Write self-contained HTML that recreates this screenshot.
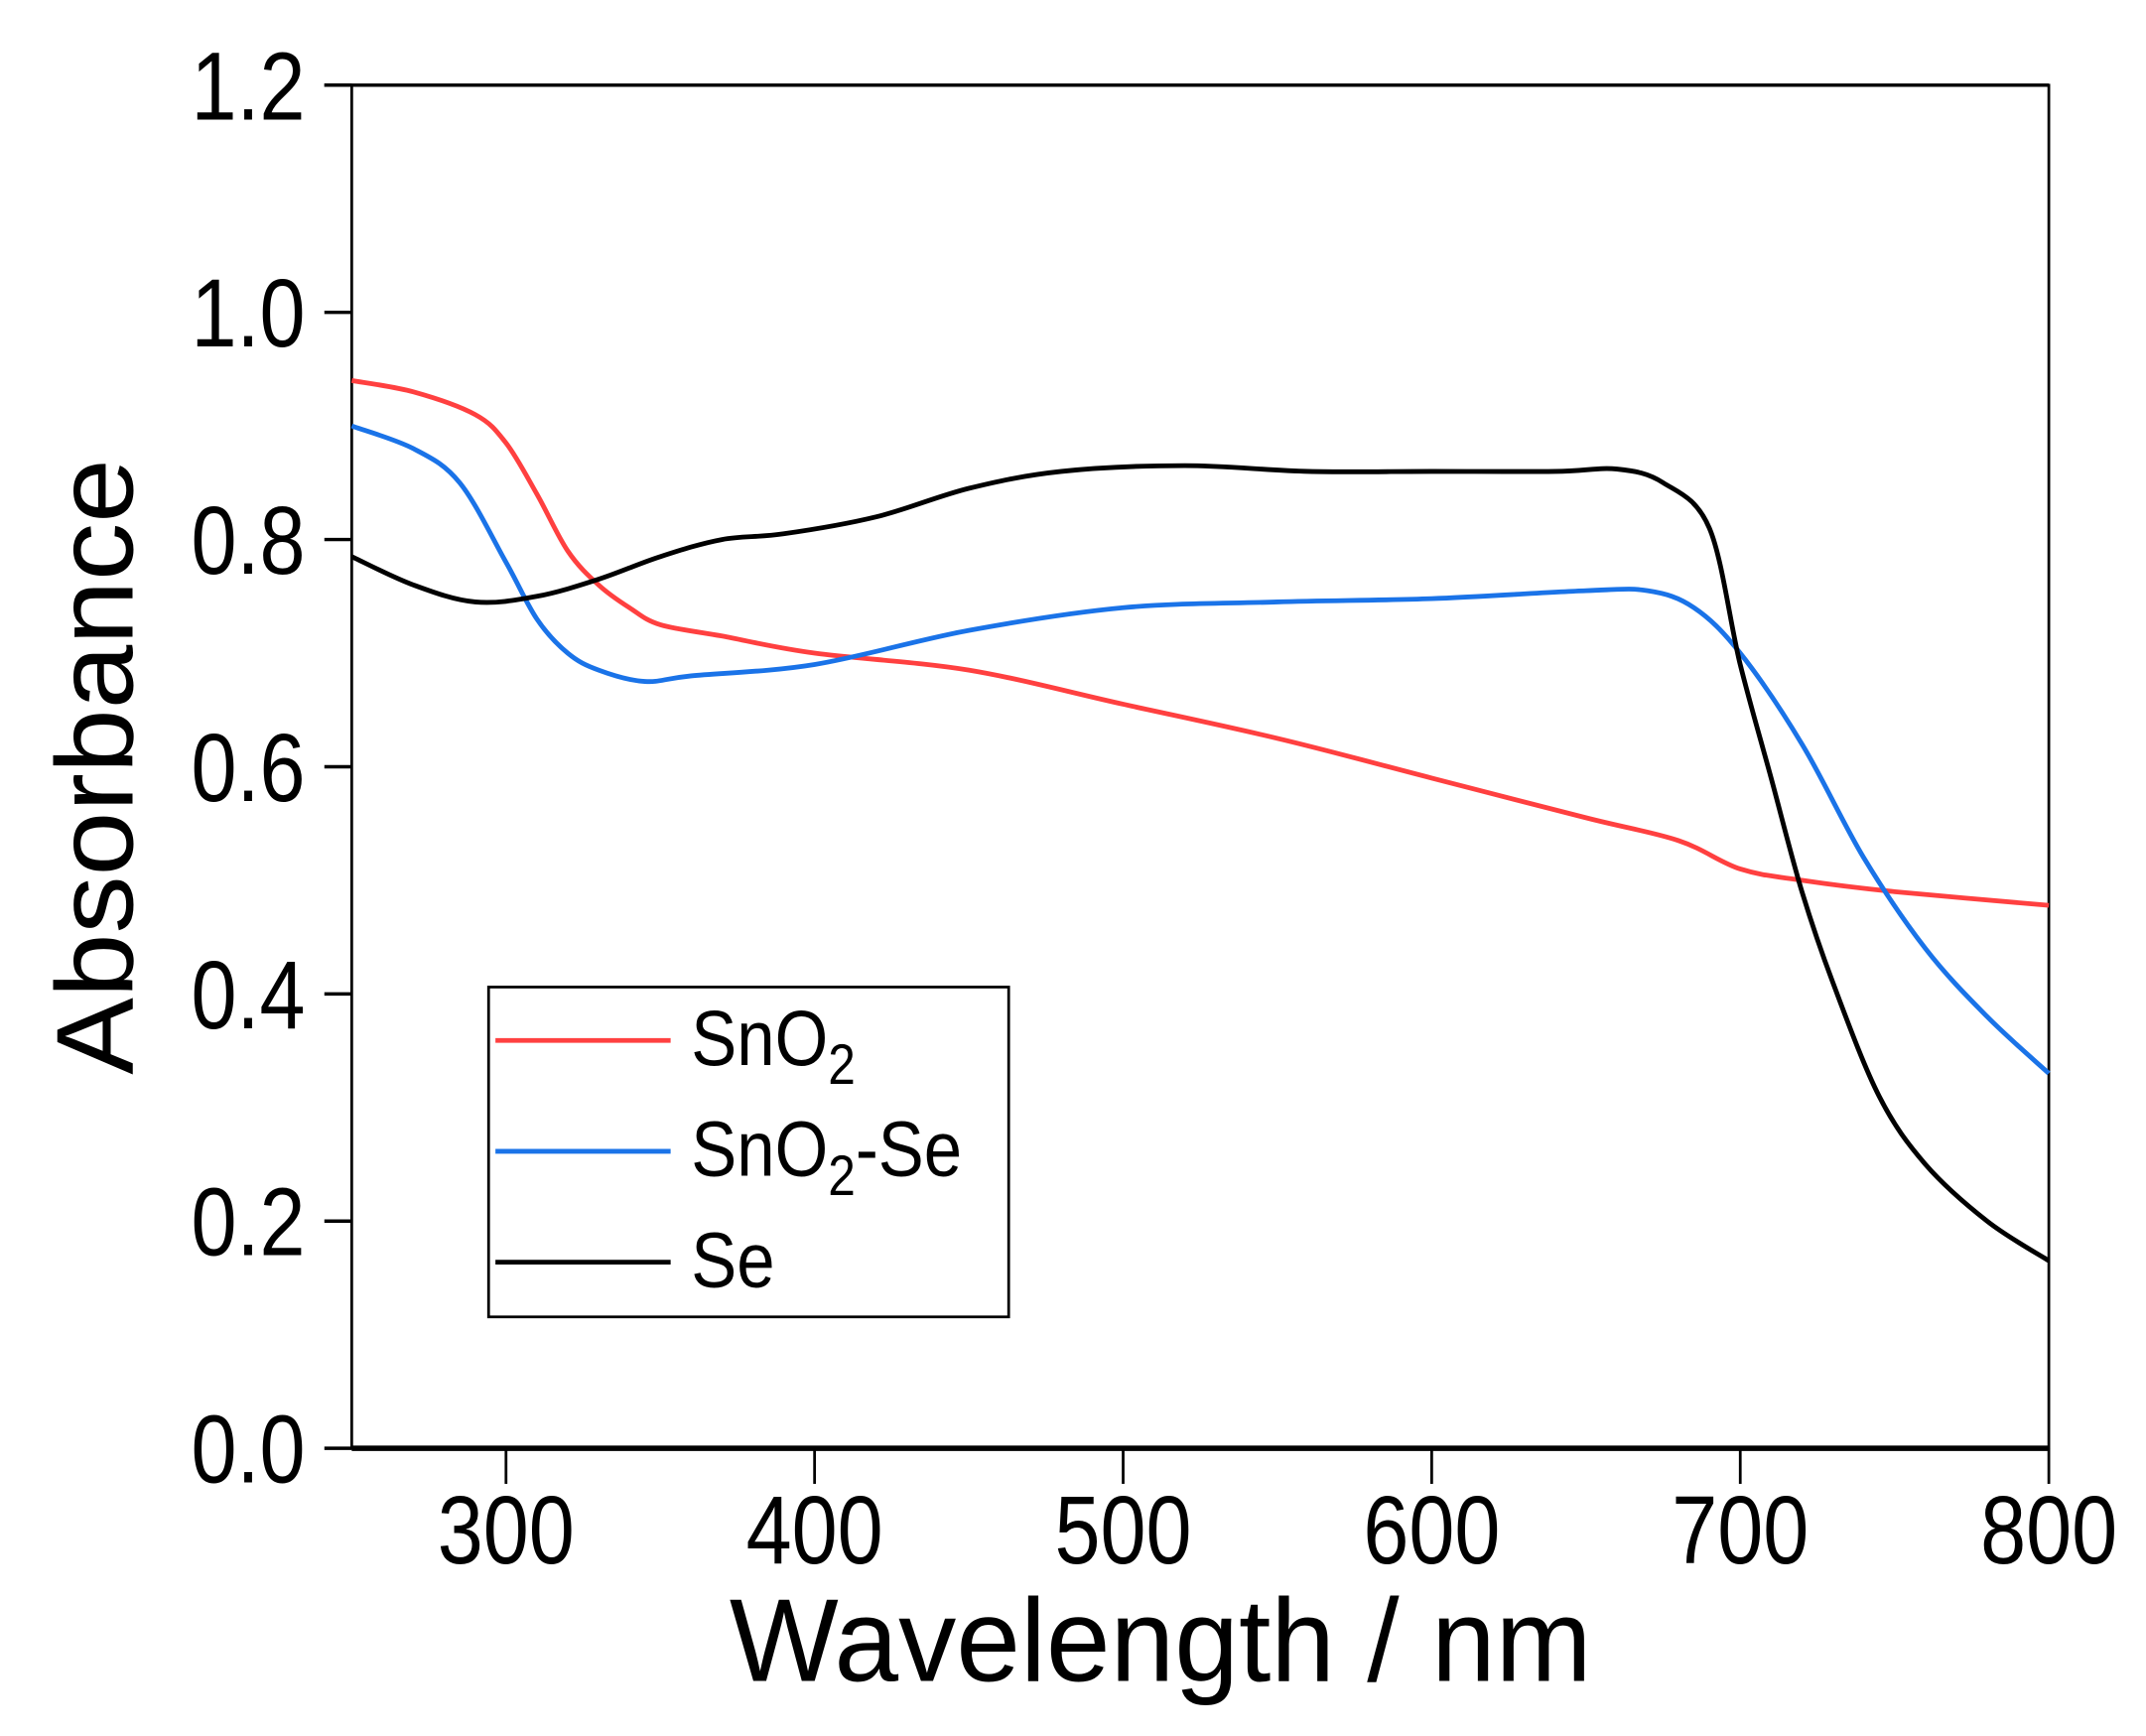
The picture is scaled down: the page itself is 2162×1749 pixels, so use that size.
<!DOCTYPE html>
<html><head><meta charset="utf-8"><style>html,body{margin:0;padding:0;background:#fff}svg{display:block}</style></head>
<body>
<svg id="chart" width="2162" height="1749" viewBox="0 0 1568 1268" xmlns="http://www.w3.org/2000/svg" font-family="Liberation Sans, sans-serif">
<g id="axes"></g><g id="series"></g><g id="legend"></g>
</svg>
<script>
const xTicks = [300, 400, 500, 600, 700, 800];
const yTicks = [0.0, 0.2, 0.4, 0.6, 0.8, 1.0, 1.2];
const yTickLabels = ["0.0","0.2","0.4","0.6","0.8","1.0","1.2"];
const seriesNames = ["SnO2", "SnO2-Se", "Se"];
const snoX = [250,270,290,300,310,320,330,340,350,370,400,450,500,550,600,650,680,700,720,750,800];
const snoY = [0.94,0.93,0.91,0.885,0.84,0.79,0.76,0.74,0.725,0.715,0.70,0.685,0.655,0.625,0.59,0.555,0.535,0.51,0.50,0.49,0.478];
const snoSeX = [250,270,285,300,310,320,330,345,360,400,450,500,550,600,650,670,685,700,720,740,760,780,800];
const snoSeY = [0.90,0.88,0.85,0.78,0.73,0.70,0.685,0.675,0.68,0.69,0.72,0.74,0.745,0.748,0.755,0.755,0.74,0.70,0.62,0.52,0.44,0.38,0.33];
const seX = [250,270,290,310,330,350,370,390,420,450,480,520,560,600,640,660,675,690,700,710,720,730,745,760,780,800];
const seY = [0.785,0.76,0.745,0.75,0.765,0.785,0.80,0.805,0.82,0.845,0.86,0.865,0.86,0.86,0.86,0.862,0.85,0.81,0.69,0.59,0.49,0.41,0.31,0.25,0.20,0.165];

const L=257,R=1497,T=62,B=1058, X0=250,X1=800,Y0=0,Y1=1.2;
const sx=v=>L+(v-X0)/(X1-X0)*(R-L);
const sy=v=>B-(v-Y0)/(Y1-Y0)*(B-T);
const NS="http://www.w3.org/2000/svg";
function mk(tag,attrs,parent,text){const e=document.createElementNS(NS,tag);for(const k in attrs)e.setAttribute(k,attrs[k]);if(text!==undefined)e.textContent=text;parent.appendChild(e);return e;}
function smooth(pts){
  let d='M'+pts[0][0].toFixed(1)+','+pts[0][1].toFixed(1);
  for(let i=0;i<pts.length-1;i++){
    const p0=pts[Math.max(0,i-1)],p1=pts[i],p2=pts[i+1],p3=pts[Math.min(pts.length-1,i+2)];
    const c1=[p1[0]+(p2[0]-p0[0])/6,p1[1]+(p2[1]-p0[1])/6];
    const c2=[p2[0]-(p3[0]-p1[0])/6,p2[1]-(p3[1]-p1[1])/6];
    d+=' C'+c1.map(v=>v.toFixed(1)).join(',')+' '+c2.map(v=>v.toFixed(1)).join(',')+' '+p2[0].toFixed(1)+','+p2[1].toFixed(1);
  }
  return d;
}
const axes=document.getElementById('axes');
let frame=mk('rect',{x:L,y:T,width:R-L,height:B-T,fill:'none',stroke:'#000','stroke-width':2},axes);


let bax=mk('line',{x1:L,y1:B,x2:R,y2:B,stroke:'#000','stroke-width':4},axes);


let tl=mk('line',{x1:237,y1:T,x2:R,y2:T,stroke:'#000','stroke-width':2.5},axes);


xTicks.forEach(v=>{
  const t=mk('line',{x1:sx(v),y1:B,x2:sx(v),y2:B+26,stroke:'#000','stroke-width':2},axes);
  
  
  const lb=mk('text',{x:0,y:0,'font-size':60,'text-anchor':'middle',transform:'translate('+sx(v)+',1142) scale(1,1.18)'},axes,String(v));
  
  
});
yTicks.forEach((v,i)=>{
  const t=mk('line',{x1:237,y1:sy(v),x2:L,y2:sy(v),stroke:'#000','stroke-width':2.5},axes);
  
  
  const lb=mk('text',{x:0,y:0,'font-size':60,'text-anchor':'end',transform:'translate(223,'+(sy(v)+25)+') scale(1,1.18)'},axes,yTickLabels[i]);
  
  
});
let xt=mk('text',{x:848,y:1228,'font-size':86,'text-anchor':'middle',textLength:630,lengthAdjust:'spacingAndGlyphs'},axes,'Wavelength / nm');


let yt=mk('text',{x:0,y:0,'font-size':80,'text-anchor':'middle',transform:'translate(97,560) rotate(-90)',textLength:450,lengthAdjust:'spacingAndGlyphs'},axes,'Absorbance');



const ser=document.getElementById('series');
const colors=['#ff4040','#1a73e8','#000'];
[[snoX,snoY],[snoSeX,snoSeY],[seX,seY]].forEach((d,i)=>{
  const pts=d[0].map((x,j)=>[sx(x),sy(d[1][j])]);
  const p=mk('path',{d:smooth(pts),fill:'none',stroke:colors[i],'stroke-width':3.5,'stroke-linejoin':'round'},ser);
  
  
});

const lg=document.getElementById('legend');
let box=mk('rect',{x:357,y:721,width:380,height:241,fill:'#fff',stroke:'#000','stroke-width':2},lg);


const ly=[760,841,922];
ly.forEach((y,i)=>{
  const l=mk('line',{x1:362,y1:y,x2:490,y2:y,stroke:colors[i],'stroke-width':3.5},lg);
  
  
  const t=mk('text',{x:0,y:0,'font-size':50,transform:'translate(505,'+(y+18)+') scale(1,1.15)'},lg);
  
  
  if(i===0){t.innerHTML='SnO<tspan font-size="36" dy="12">2</tspan>';}
  else if(i===1){t.innerHTML='SnO<tspan font-size="36" dy="12">2</tspan><tspan dy="-12">-Se</tspan>';}
  else t.textContent='Se';
});
</script>
</body></html>
